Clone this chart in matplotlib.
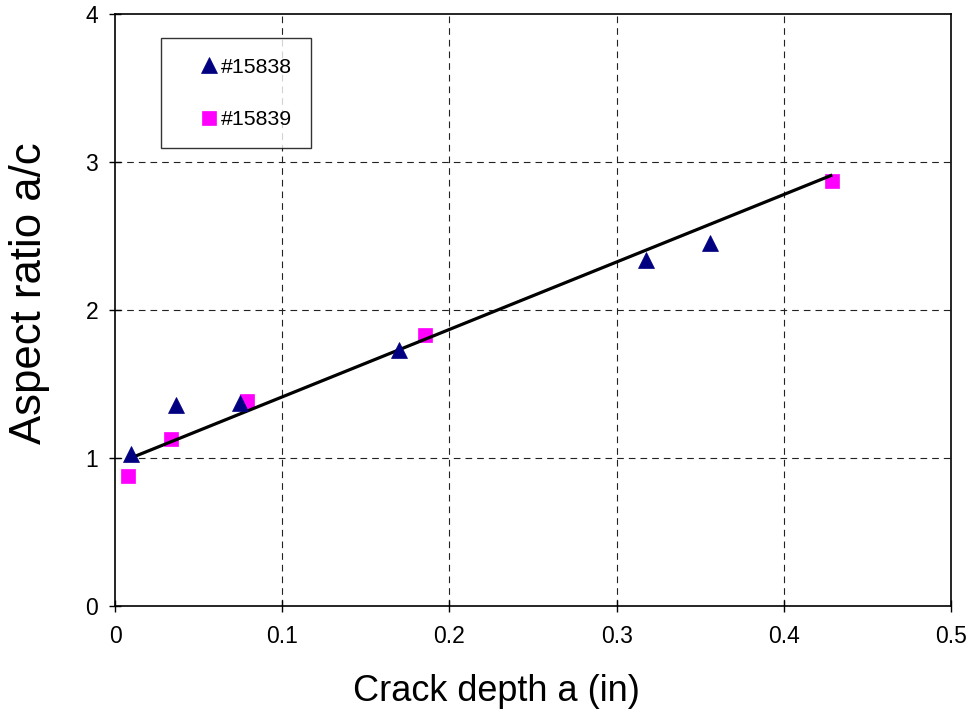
import matplotlib
matplotlib.use("Agg")
import matplotlib.pyplot as plt
import numpy as np

plt.rcParams['font.family'] = ['Liberation Sans', 'DejaVu Sans']

# Specimen #15838
a_15838 = [0.0096, 0.0365, 0.075, 0.170, 0.3176, 0.356]
ar_15838 = [1.03, 1.36, 1.37, 1.73, 2.34, 2.45]

# Specimen #15839
a_15839 = [0.008, 0.0333, 0.079, 0.1857, 0.429]
ar_15839 = [0.88, 1.13, 1.385, 1.83, 2.875]

# Linear trend: aspect ratio = slope * a + intercept
trend_slope = 4.558
trend_intercept = 0.957

x_ticks = [0, 0.1, 0.2, 0.3, 0.4, 0.5]
x_tick_labels = ["0", "0.1", "0.2", "0.3", "0.4", "0.5"]
y_ticks = [0, 1, 2, 3, 4]
y_tick_labels = ["0", "1", "2", "3", "4"]

fig = plt.figure(figsize=(9.69, 7.14), dpi=100)
ax = fig.add_axes([115 / 969, 108 / 714, 836 / 969, 592 / 714])

ax.set_xlim(0, 0.5)
ax.set_ylim(0, 4)

# dashed grid at interior ticks only
for xv in x_ticks[1:-1]:
    ax.axvline(xv, color='#222222', lw=0.8, ls=(0, (6, 4.5)), zorder=1)
for yv in y_ticks[1:-1]:
    ax.axhline(yv, color='#222222', lw=0.8, ls=(0, (6, 4.5)), zorder=1)

all_a = np.array(a_15838 + a_15839)
xs = np.array([all_a.min(), all_a.max()])
ax.plot(xs, trend_slope * xs + trend_intercept, color='black', lw=2.3,
        solid_capstyle='butt', zorder=3)

ax.plot(a_15838, ar_15838, ls='none', marker='^', ms=11, color='#000080',
        mec='#000080', mew=0.5, label='#15838', zorder=4)
ax.plot(a_15839, ar_15839, ls='none', marker='s', ms=10.5, color='#FF00FF',
        mec='#FF00FF', mew=0.5, label='#15839', zorder=2)

ax.set_xticks(x_ticks)
ax.set_xticklabels(x_tick_labels)
ax.set_yticks(y_ticks)
ax.set_yticklabels(y_tick_labels)
ax.tick_params(axis='both', direction='inout', length=8, width=1,
               labelsize=16.5, colors='black')
ax.tick_params(axis='x', pad=10)
ax.tick_params(axis='y', pad=8)

for s in ax.spines.values():
    s.set_linewidth(1.2)
    s.set_color('black')

ax.set_xlabel("Crack depth a (in)", fontsize=26)
ax.set_ylabel("Aspect ratio a/c", fontsize=31.5)
ax.xaxis.set_label_coords(0.456, -0.145)
ax.xaxis.label.set_va('center')
ax.yaxis.set_label_coords(-0.102, 0.528)
ax.yaxis.label.set_va('center')

leg = ax.legend(loc='upper left', bbox_to_anchor=(0.055, 0.959),
                frameon=True, fancybox=False, shadow=False, fontsize=15.4,
                borderpad=0.9, labelspacing=1.57, handlelength=2.7,
                handletextpad=-0.8, borderaxespad=0, markerscale=1.0)
leg.get_frame().set_edgecolor('black')
leg.get_frame().set_linewidth(1.0)

fig.savefig("out.png", dpi=100)
